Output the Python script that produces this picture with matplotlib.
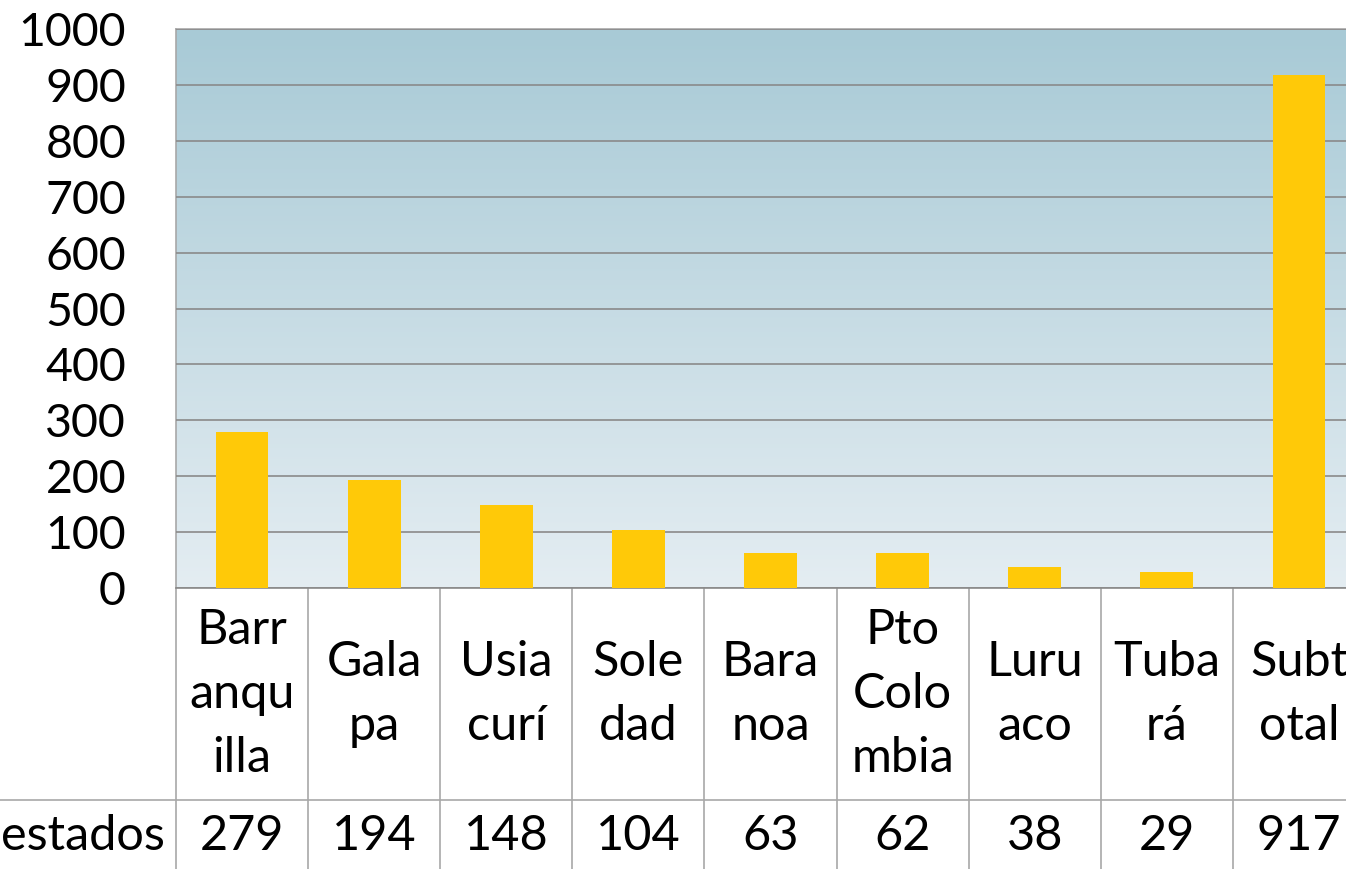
import numpy as np
import matplotlib.pyplot as plt
from matplotlib.lines import Line2D
from matplotlib.colors import LinearSegmentedColormap
import matplotlib.transforms as mtransforms

plt.rcParams['font.family'] = ['Lato', 'DejaVu Sans']

# datos
municipios = ['Barr\nanqu\nilla', 'Gala\npa', 'Usia\ncurí', 'Sole\ndad', 'Bara\nnoa',
              'Pto\nColo\nmbia', 'Luru\naco', 'Tuba\nrá', 'Subt\notal']
valores = [279, 194, 148, 104, 63, 62, 38, 29, 917]
etiqueta_fila = 'estados'
ticks_y = [0, 100, 200, 300, 400, 500, 600, 700, 800, 900, 1000]

W, H = 1346, 869
fig = plt.figure(figsize=(W / 100, H / 100), dpi=100)
ax = fig.add_axes([176 / W, 1 - 588 / H, 1189 / W, 559 / H])

n = len(valores)
x = np.arange(n)

# fondo degradado
grad = np.linspace(0, 1, 256).reshape(-1, 1)
cmap = LinearSegmentedColormap.from_list('fondo', ['#e4edf2', '#a8cad6'])
ax.imshow(grad, cmap=cmap, aspect='auto', extent=[-0.5, n - 0.5, 0, 1000],
          origin='lower', zorder=0)

ax.bar(x, valores, width=0.4, color='#ffc908', zorder=3)

ax.set_xlim(-0.5, n - 0.5)
ax.set_ylim(0, 1000)
ax.set_yticks(ticks_y)
ax.set_xticks([])
ax.yaxis.grid(True, color='#8a8a8a', linewidth=1.2, zorder=1)
ax.set_axisbelow(False)
ax.tick_params(axis='y', length=0, pad=36, labelsize=33.5)
for s in ax.spines.values():
    s.set_color('#a8a8a8')
    s.set_linewidth(1.2)
ax.spines['bottom'].set_color('#8a8a8a')

# tabla de datos
trans = mtransforms.blended_transform_factory(ax.transData, ax.transAxes)
y_sep = -(800 - 588) / 559
for b in np.arange(n + 1) - 0.5:
    ax.plot([b, b], [0, -0.6], color='#a8a8a8', lw=1.2, transform=trans, clip_on=False)
fig.add_artist(Line2D([0, 1], [1 - 800 / H, 1 - 800 / H], color='#a8a8a8', lw=1.2))

for i in range(n):
    ax.text(x[i], -(694 - 588) / 559, municipios[i], transform=trans, ha='center',
            va='center', fontsize=35, linespacing=1.56)
    ax.text(x[i], -(836 - 588) / 559, str(valores[i]), transform=trans,
            ha='center', va='center', fontsize=35)
fig.text(165 / W, 1 - 836 / H, etiqueta_fila, ha='right', va='center', fontsize=35)

fig.savefig('out.png', dpi=100)
